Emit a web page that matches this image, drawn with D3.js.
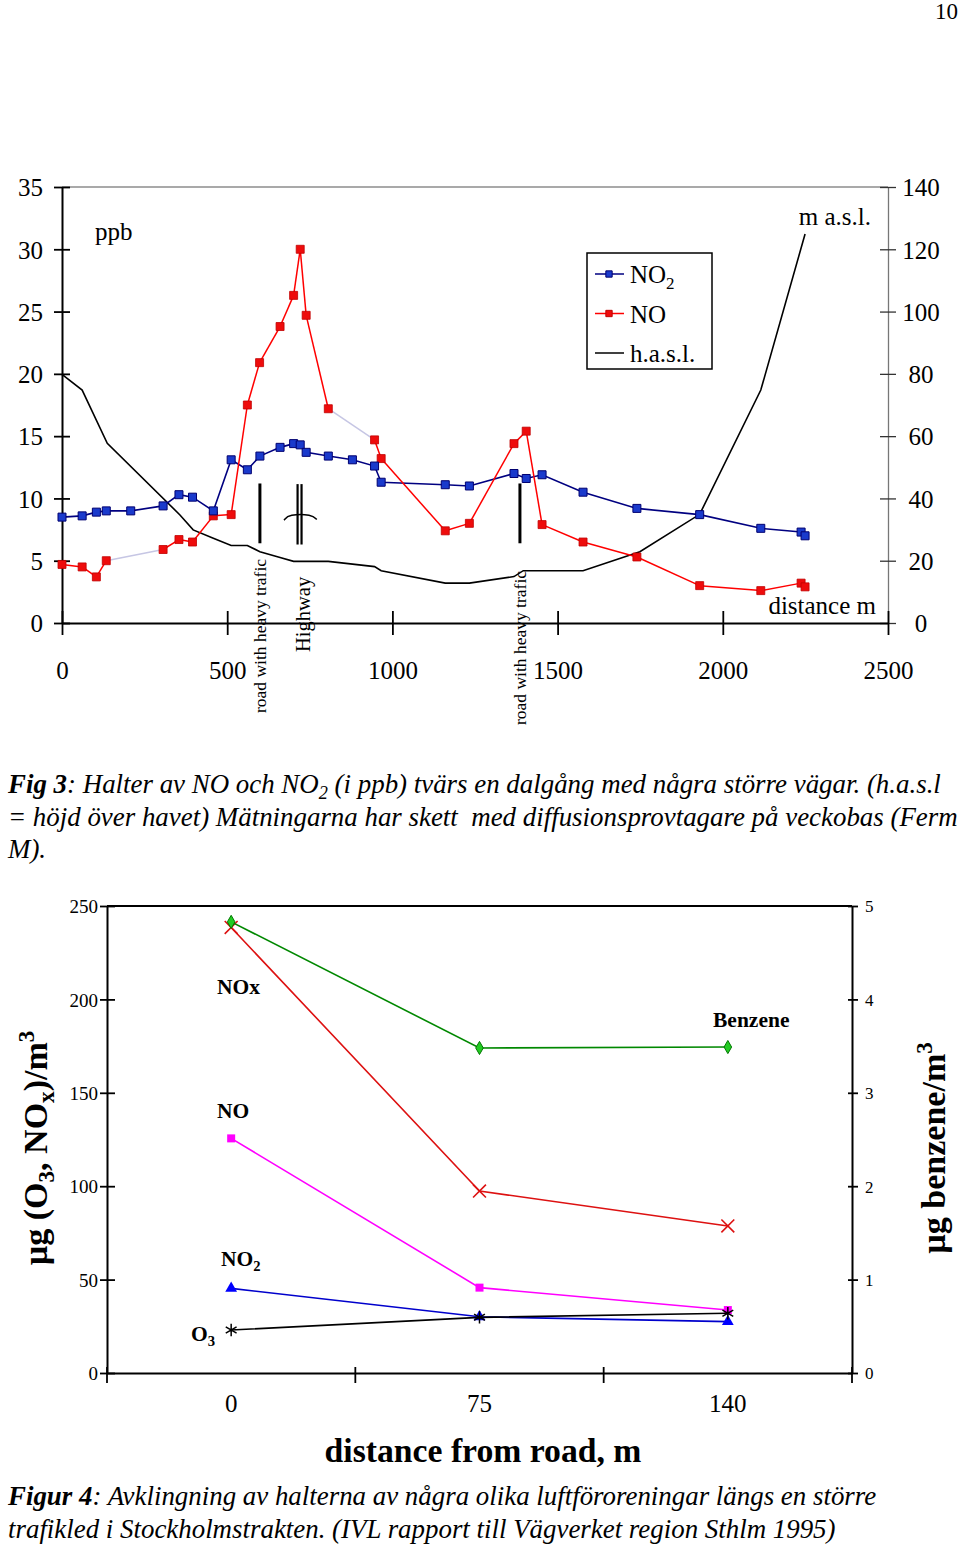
<!DOCTYPE html>
<html><head><meta charset="utf-8">
<script src="https://cdn.jsdelivr.net/npm/d3@7"></script>
<style>
body{margin:0;background:#fff}
svg{display:block}
text{font-family:"Liberation Serif","Times New Roman",serif;fill:#000}
</style>
</head><body>
<svg id="c" width="960" height="1545"></svg>
<script>
// ---------- DATA: Fig 3 ----------
const distTicks = [0, 500, 1000, 1500, 2000, 2500];
const ppbTicks = [0, 5, 10, 15, 20, 25, 30, 35];
const maslTicks = [0, 20, 40, 60, 80, 100, 120, 140];

const no2Dist = [0,61,104,134,208,306,354,395,458,512,561,599,660,701,721,739,806,879,946,966,1160,1233,1368,1405,1453,1577,1740,1930,2115,2237,2249];
const no2Ppb  = [8.5,8.6,8.9,9.0,9.0,9.4,10.3,10.1,9.0,13.1,12.3,13.4,14.1,14.4,14.3,13.7,13.4,13.1,12.6,11.3,11.1,11.0,12.0,11.6,11.9,10.5,9.2,8.7,7.6,7.3,7.0];

const noDist = [0,61,104,134,306,354,395,458,512,561,598,660,701,721,739,806,946,966,1160,1233,1368,1405,1453,1577,1740,1930,2115,2237,2249];
const noPpb  = [4.7,4.5,3.7,5.0,5.9,6.7,6.5,8.6,8.7,17.5,20.9,23.8,26.3,30.0,24.7,17.2,14.7,13.2,7.4,8.0,14.4,15.4,7.9,6.5,5.3,3.0,2.6,3.2,2.9];
const noBridgeSegments = [3, 15]; // segments drawn as faint (missing samples between)

const hDist = [0,61,137,357,397,458,512,561,599,660,701,806,946,966,1160,1233,1368,1396,1577,1749,1930,2115,2249];
const hMasl = [79.8,74.8,57.7,34.7,29.9,27.2,24.9,24.9,22.9,21.0,19.8,19.8,18.1,16.8,12.8,12.8,14.9,16.8,16.8,22.9,34.9,74.8,124.9];

const roadDists = [599, 1386];
const roadLabel = "road with heavy trafic";
const highwayDists = [713, 725];

// ---------- DATA: Fig 4 ----------
const distCats = ["0", "75", "140"];
const ugTicks = [0, 50, 100, 150, 200, 250];
const benzTicks = [0, 1, 2, 3, 4, 5];
const noxVals = [238.5, 97.4, 78.7];
const noVals  = [125.6, 45.7, 33.7];
const no2Vals = [45.3, 30.1, 27.5];
const o3Vals  = [23.0, 29.8, 32.0];
const benzeneVals = [4.83, 3.48, 3.49];

// ---------- helpers ----------
const svg = d3.select("#c");
svg.append("rect").attr("width",960).attr("height",1545).attr("fill","#fff");
const fmt = d3.format("d");

function rich(sel, parts, size){
  parts.forEach(p=>{
    const t = sel.append("tspan").text(p.t);
    if(p.b) t.attr("font-weight","bold");
    if(p.sub){ t.attr("font-size", size*0.68).attr("dy", size*0.22); }
    if(p.sup){ t.attr("font-size", size*0.68).attr("dy", -size*0.38); }
    if(p.after) t.attr("dy", p.after);
  });
  return sel;
}

svg.append("text").attr("x",958).attr("y",19).attr("text-anchor","end").attr("font-size",23).text("10");

// ================= FIG 3 =================
const x = d3.scaleLinear().domain([0,2500]).range([62,888]);
const yL = d3.scaleLinear().domain([0,35]).range([623,187]);
const yR = d3.scaleLinear().domain([0,140]).range([623,187]);

const g1 = svg.append("g");
g1.append("line").attr("x1",x(0)).attr("x2",x(2500)).attr("y1",yL(35)).attr("y2",yL(35))
  .attr("stroke","#555").attr("stroke-width",1.2);

const gR = g1.append("g").attr("transform",`translate(${x(2500)},0)`)
  .call(d3.axisRight(yR).tickValues(maslTicks).tickFormat(fmt).tickSizeOuter(0));
gR.attr("font-size",25).attr("font-family",null);
gR.select(".domain").attr("stroke","#777").attr("stroke-width",1.3);
gR.selectAll(".tick line").attr("x1",-8).attr("x2",8).attr("stroke","#333").attr("stroke-width",1.3);
gR.selectAll(".tick text").attr("x",33).attr("text-anchor","middle").attr("dy","0.35em");

const gL = g1.append("g").attr("transform",`translate(${x(0)},0)`)
  .call(d3.axisLeft(yL).tickValues(ppbTicks).tickFormat(fmt).tickSizeOuter(0));
gL.attr("font-size",25).attr("font-family",null);
gL.select(".domain").attr("stroke","#000").attr("stroke-width",2);
gL.selectAll(".tick line").attr("x1",-8).attr("x2",8).attr("stroke-width",1.8);
gL.selectAll(".tick text").attr("x",-19).attr("dy","0.35em");

const gB = g1.append("g").attr("transform",`translate(0,${yL(0)})`)
  .call(d3.axisBottom(x).tickValues(distTicks).tickFormat(fmt).tickSizeOuter(0));
gB.attr("font-size",25).attr("font-family",null);
gB.select(".domain").attr("stroke","#000").attr("stroke-width",2);
gB.selectAll(".tick line").attr("y1",-12).attr("y2",12).attr("stroke-width",1.8);
gB.selectAll(".tick text").attr("y",47).attr("dy","0.35em");

// height line
const hPts = d3.zip(hDist, hMasl);
g1.append("path").datum(hPts).attr("fill","none").attr("stroke","#000").attr("stroke-width",1.6)
  .attr("d", d3.line().x(d=>x(d[0])).y(d=>yR(d[1])));

// NO2 line
const no2Pts = d3.zip(no2Dist, no2Ppb);
g1.append("path").datum(no2Pts).attr("fill","none").attr("stroke","#000080").attr("stroke-width",1.6)
  .attr("d", d3.line().x(d=>x(d[0])).y(d=>yL(d[1])));

// NO line (segmented)
const noPts = d3.zip(noDist, noPpb);
g1.selectAll(".noseg").data(d3.pairs(noPts)).join("line")
  .attr("x1",d=>x(d[0][0])).attr("y1",d=>yL(d[0][1]))
  .attr("x2",d=>x(d[1][0])).attr("y2",d=>yL(d[1][1]))
  .attr("stroke",(d,i)=>noBridgeSegments.includes(i)?"#c6c6e4":"#ff0000")
  .attr("stroke-width",1.5);

const sq = d3.symbol().type(d3.symbolSquare).size(64);
g1.selectAll(".nom").data(noPts).join("path")
  .attr("transform",d=>`translate(${x(d[0])},${yL(d[1])})`).attr("d",sq)
  .attr("fill","#ee0c0c").attr("stroke","#c00000").attr("stroke-width",0.8);
g1.selectAll(".no2m").data(no2Pts).join("path")
  .attr("transform",d=>`translate(${x(d[0])},${yL(d[1])})`).attr("d",sq)
  .attr("fill","#1a3acc").attr("stroke","#000070").attr("stroke-width",1);

// road annotations
const roadLabelDrop = [90, 102];
roadDists.forEach((dd,i)=>{
  g1.append("line").attr("x1",x(dd)).attr("x2",x(dd)).attr("y1",yL(11.2)).attr("y2",yL(6.4))
    .attr("stroke","#000").attr("stroke-width",3);
  g1.append("text").attr("transform",`translate(${x(dd)+6},${yL(0)+roadLabelDrop[i]}) rotate(-90)`)
    .attr("font-size",17.5).text(roadLabel);
});
highwayDists.forEach(dd=>{
  g1.append("line").attr("x1",x(dd)).attr("x2",x(dd)).attr("y1",yL(11.15)).attr("y2",yL(6.3))
    .attr("stroke","#000").attr("stroke-width",2.2);
});
g1.append("path").datum([[672,8.25],[686,8.72],[757,8.72],[771,8.3]])
  .attr("fill","none").attr("stroke","#000").attr("stroke-width",1.5)
  .attr("d", d3.line().x(d=>x(d[0])).y(d=>yL(d[1])).curve(d3.curveBasis));
g1.append("text").attr("transform",`translate(${x(719)+10},${yL(0)+29}) rotate(-90)`)
  .attr("font-size",20.5).text("Highway");

// labels
g1.append("text").attr("x",95).attr("y",240).attr("font-size",25).text("ppb");
g1.append("text").attr("x",871).attr("y",225).attr("font-size",25).attr("text-anchor","end").text("m a.s.l.");
g1.append("text").attr("x",876).attr("y",614).attr("font-size",25).attr("text-anchor","end").text("distance m");

// legend
const lg = g1.append("g");
lg.append("rect").attr("x",587).attr("y",253).attr("width",125).attr("height",116)
  .attr("fill","#fff").attr("stroke","#000").attr("stroke-width",1.5);
const legItems = [
  {parts:[{t:"NO"},{t:"2",sub:true}], line:"#000080", fill:"#1a3acc", st:"#000070", mk:true},
  {parts:[{t:"NO"}], line:"#ff0000", fill:"#ee0c0c", st:"#c00000", mk:true},
  {parts:[{t:"h.a.s.l."}], line:"#000", mk:false}
];
legItems.forEach((it,i)=>{
  const yy = 274 + i*39.5;
  lg.append("line").attr("x1",595).attr("x2",624).attr("y1",yy).attr("y2",yy)
    .attr("stroke",it.line).attr("stroke-width",1.5);
  if(it.mk) lg.append("path").attr("transform",`translate(609,${yy})`)
    .attr("d", d3.symbol().type(d3.symbolSquare).size(40)).attr("fill",it.fill).attr("stroke",it.st);
  rich(lg.append("text").attr("x",630).attr("y",yy+9).attr("font-size",25), it.parts, 25);
});

// caption fig 3
const capSize = 26.9;
rich(svg.append("text").attr("x",8).attr("y",793).attr("font-size",capSize).attr("font-style","italic").style("white-space","pre"),
  [{t:"Fig 3",b:true},{t:": Halter av NO och NO"},{t:"2",sub:true},{t:" (i ppb) tvärs en dalgång med några större vägar. (h.a.s.l", after:-capSize*0.22}], capSize);
svg.append("text").attr("x",8).attr("y",826).attr("font-size",capSize).attr("font-style","italic").style("white-space","pre")
  .text("= höjd över havet) Mätningarna har skett  med diffusionsprovtagare på veckobas (Ferm");
svg.append("text").attr("x",8).attr("y",858).attr("font-size",capSize).attr("font-style","italic").text("M).");

// ================= FIG 4 =================
const xb = d3.scaleBand().domain(distCats).range([107,852]);
const yb = d3.scaleLinear().domain([0,250]).range([1373,906]);
const yb2 = d3.scaleLinear().domain([0,5]).range([1373,906]);
const g2 = svg.append("g");

g2.append("line").attr("x1",107).attr("x2",852).attr("y1",yb(250)).attr("y2",yb(250))
  .attr("stroke","#000").attr("stroke-width",2);

const bL = g2.append("g").attr("transform",`translate(${xb.range()[0]},0)`)
  .call(d3.axisLeft(yb).tickValues(ugTicks).tickFormat(fmt).tickSizeOuter(0));
bL.attr("font-size",19).attr("font-family",null);
bL.select(".domain").attr("stroke-width",2);
bL.selectAll(".tick line").attr("x1",-7).attr("x2",8).attr("stroke-width",1.8);
bL.selectAll(".tick text").attr("x",-9).attr("dy","0.35em");

const bR = g2.append("g").attr("transform",`translate(${xb.range()[1]},0)`)
  .call(d3.axisRight(yb2).tickValues(benzTicks).tickFormat(fmt).tickSizeOuter(0));
bR.attr("font-size",17).attr("font-family",null);
bR.select(".domain").attr("stroke-width",2);
bR.selectAll(".tick line").attr("x1",-4).attr("x2",6).attr("stroke-width",1.8);
bR.selectAll(".tick text").attr("x",13).attr("dy","0.35em");

const bB = g2.append("g").attr("transform",`translate(0,${yb(0)})`)
  .call(d3.axisBottom(xb).tickSize(0).tickSizeOuter(0));
bB.attr("font-size",25).attr("font-family",null);
bB.select(".domain").attr("stroke-width",2);
bB.selectAll(".tick text").attr("y",30).attr("dy","0.35em");
const bounds = distCats.map(c=>xb(c)).concat([xb.range()[1]]);
bB.selectAll(".bt").data(bounds).join("line").attr("x1",d=>d).attr("x2",d=>d)
  .attr("y1",-6).attr("y2",10).attr("stroke","#000").attr("stroke-width",1.8);

const cx = c => xb(c) + xb.bandwidth()/2;
function series(vals, scale, color, width){
  const pts = distCats.map((c,i)=>[cx(c), scale(vals[i])]);
  g2.append("path").datum(pts).attr("fill","none").attr("stroke",color).attr("stroke-width",width)
    .attr("d", d3.line());
  return pts;
}
// NOx
const noxPts = series(noxVals, yb, "#dd1111", 1.6);
g2.selectAll(".noxm").data(noxPts).join("path").attr("transform",d=>`translate(${d[0]},${d[1]})`)
  .attr("d", d3.symbol().type(d3.symbolTimes||d3.symbolCross).size(110)).attr("fill","none")
  .attr("stroke","#dd1111").attr("stroke-width",1.6);
// NO
const noBPts = series(noVals, yb, "#ff00ff", 1.6);
g2.selectAll(".nobm").data(noBPts).join("path").attr("transform",d=>`translate(${d[0]},${d[1]})`)
  .attr("d", d3.symbol().type(d3.symbolSquare).size(64)).attr("fill","#ff00ff");
// NO2
const no2BPts = series(no2Vals, yb, "#0000cc", 1.6);
g2.selectAll(".no2bm").data(no2BPts).join("path").attr("transform",d=>`translate(${d[0]},${d[1]})`)
  .attr("d", d3.symbol().type(d3.symbolTriangle).size(60)).attr("fill","#0000ff");
// O3
const o3Pts = series(o3Vals, yb, "#000", 1.6);
g2.selectAll(".o3m").data(o3Pts).join("path").attr("transform",d=>`translate(${d[0]},${d[1]})`)
  .attr("d", d3.symbol().type(d3.symbolAsterisk||d3.symbolCross).size(110)).attr("fill","none")
  .attr("stroke","#000").attr("stroke-width",1.5);
// Benzene
const bzPts = series(benzeneVals, yb2, "#008800", 1.6);
g2.selectAll(".bzm").data(bzPts).join("path").attr("transform",d=>`translate(${d[0]},${d[1]})`)
  .attr("d", d3.symbol().type(d3.symbolDiamond).size(50)).attr("fill","#22cc22").attr("stroke","#007700");

// series labels
const lbl = (xx,yy,parts)=>rich(g2.append("text").attr("x",xx).attr("y",yy).attr("font-size",21.5).attr("font-weight","bold"), parts, 21.5);
lbl(217, 994, [{t:"NOx"}]);
lbl(217, 1118, [{t:"NO"}]);
lbl(221, 1266, [{t:"NO"},{t:"2",sub:true}]);
lbl(191, 1341, [{t:"O"},{t:"3",sub:true}]);
lbl(713, 1027, [{t:"Benzene"}]);

// axis titles
rich(g2.append("text").attr("transform","translate(47,1148) rotate(-90)").attr("text-anchor","middle")
  .attr("font-size",34).attr("font-weight","bold"),
  [{t:"µg (O"},{t:"3",sub:true},{t:", NO", after:-34*0.22},{t:"x",sub:true},{t:")/m", after:-34*0.22},{t:"3",sup:true}], 34);
rich(g2.append("text").attr("transform","translate(945,1148) rotate(-90)").attr("text-anchor","middle")
  .attr("font-size",34).attr("font-weight","bold"),
  [{t:"µg benzene/m"},{t:"3",sup:true}], 34);
g2.append("text").attr("x",483).attr("y",1462).attr("text-anchor","middle").attr("font-size",33.7)
  .attr("font-weight","bold").text("distance from road, m");

// caption fig 4
rich(svg.append("text").attr("x",8).attr("y",1505).attr("font-size",capSize).attr("font-style","italic"),
  [{t:"Figur 4",b:true},{t:": Avklingning av halterna av några olika luftföroreningar längs en större"}], capSize);
svg.append("text").attr("x",8).attr("y",1538).attr("font-size",capSize).attr("font-style","italic")
  .text("trafikled i Stockholmstrakten. (IVL rapport till Vägverket region Sthlm 1995)");
</script>
</body></html>
